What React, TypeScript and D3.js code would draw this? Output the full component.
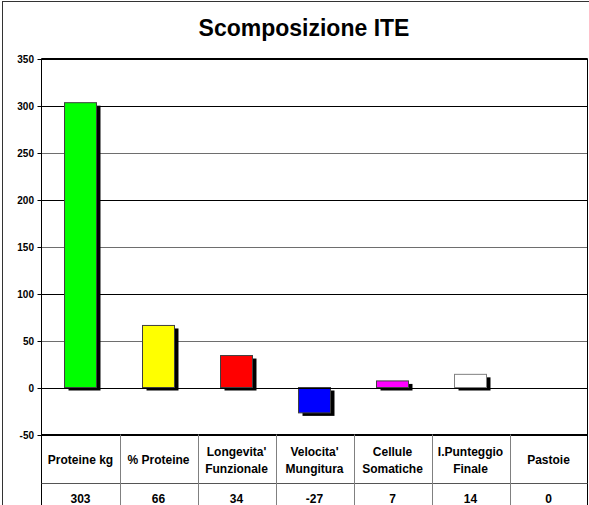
import React from "react";
import * as d3 from "d3";

const categories: string[][] = [
  ["Proteine kg"],
  ["% Proteine"],
  ["Longevita'", "Funzionale"],
  ["Velocita'", "Mungitura"],
  ["Cellule", "Somatiche"],
  ["I.Punteggio", "Finale"],
  ["Pastoie"],
];
const values: number[] = [303, 66, 34, -27, 7, 14, 0];
const barColors: string[] = ["#00FF00", "#FFFF00", "#FF0000", "#0000FF", "#FF00FF", "#FFFFFF", "#FFFFFF"];
const yTicks: number[] = [-50, 0, 50, 100, 150, 200, 250, 300, 350];
const title = "Scomposizione ITE";

const W = 589;
const H = 505;
const plotLeft = 41.5;
const plotRight = 587.5;
const plotTop = 58.5;
const plotBottom = 434.5;
const rowSplit = 483.5;
const font = "'Liberation Sans', Arial, sans-serif";

export default function App() {
  const x = d3
    .scaleBand<number>()
    .domain(values.map((_, i) => i))
    .range([plotLeft, plotRight])
    .paddingInner(0)
    .paddingOuter(0);
  const y = d3.scaleLinear().domain([-50, 350]).range([plotBottom, plotTop]);
  const bw = x.bandwidth();
  const barW = bw * 0.41;
  const sdx = 4;
  const sdy = 3;

  return (
    <svg
      width={W}
      height={H}
      style={{ position: "absolute", left: 0, top: 0, background: "#fff" }}
      fontFamily={font}
    >
      {/* outer frame */}
      <rect x={2.5} y={1.5} width={W + 5} height={H + 5} fill="#fff" stroke="#333" strokeWidth={1} />
      <text
        x={304}
        y={36}
        textAnchor="middle"
        fontSize={23}
        fontWeight="bold"
        fill="#000"
      >
        {title}
      </text>

      {/* gridlines */}
      {yTicks.map((t) => (
        <line
          key={"g" + t}
          x1={plotLeft}
          x2={plotRight}
          y1={Math.round(y(t)) + 0.5}
          y2={Math.round(y(t)) + 0.5}
          stroke={t === -50 || t === 0 || t === 350 ? "#000" : t % 100 === 0 ? "#000" : "#6e6e6e"}
          strokeWidth={1}
        />
      ))}
      {/* ticks and labels */}
      {yTicks.map((t) => (
        <g key={"t" + t}>
          <line
            x1={plotLeft - 4}
            x2={plotLeft}
            y1={Math.round(y(t)) + 0.5}
            y2={Math.round(y(t)) + 0.5}
            stroke="#000"
          />
          <text
            x={34}
            y={Math.round(y(t)) + 4}
            textAnchor="end"
            fontSize={10}
            fontWeight="bold"
            fill="#000"
          >
            {t}
          </text>
        </g>
      ))}

      {/* bars */}
      {values.map((v, i) => {
        const cx = (x(i) as number) + bw / 2;
        const y0 = Math.min(y(v), y(0));
        const h = Math.abs(y(v) - y(0));
        return (
          <g key={"b" + i}>
            {h > 0 && (
              <rect x={cx - barW / 2 + sdx} y={y0 + sdy} width={barW} height={h} fill="#000" />
            )}
            <rect
              x={cx - barW / 2}
              y={y0}
              width={barW}
              height={h}
              fill={barColors[i]}
              stroke={h > 0 ? (barColors[i] === "#FFFFFF" ? "#808080" : "#404040") : "none"}
              strokeWidth={1}
            />
          </g>
        );
      })}

      {/* zero line on top */}
      <line x1={plotLeft} x2={plotRight} y1={Math.round(y(0)) + 0.5} y2={Math.round(y(0)) + 0.5} stroke="#000" />

      {/* plot frame */}
      <line x1={plotLeft} x2={plotLeft} y1={plotTop} y2={H} stroke="#000" />
      <line x1={plotRight} x2={plotRight} y1={plotTop} y2={H} stroke="#000" />
      <line x1={plotLeft} x2={plotRight} y1={plotTop} y2={plotTop} stroke="#000" />
      <line x1={plotLeft} x2={plotRight} y1={plotBottom} y2={plotBottom} stroke="#000" />

      {/* data table */}
      <line x1={plotLeft} x2={plotRight} y1={rowSplit} y2={rowSplit} stroke="#555" />
      {values.slice(1).map((_, i) => {
        const xx = Math.round(x(i + 1) as number) + 0.5;
        return <line key={"c" + i} x1={xx} x2={xx} y1={plotBottom} y2={H} stroke="#808080" />;
      })}
      {categories.map((lines, i) => {
        const cx = (x(i) as number) + bw / 2;
        const base = lines.length === 1 ? 464 : 456;
        return (
          <text key={"l" + i} textAnchor="middle" fontSize={12} fontWeight="bold" fill="#000">
            {lines.map((ln, j) => (
              <tspan key={j} x={cx} y={base + j * 17}>
                {ln}
              </tspan>
            ))}
          </text>
        );
      })}
      {values.map((v, i) => {
        const cx = (x(i) as number) + bw / 2;
        return (
          <text key={"v" + i} x={cx} y={503} textAnchor="middle" fontSize={12} fontWeight="bold" fill="#000">
            {v}
          </text>
        );
      })}
    </svg>
  );
}
